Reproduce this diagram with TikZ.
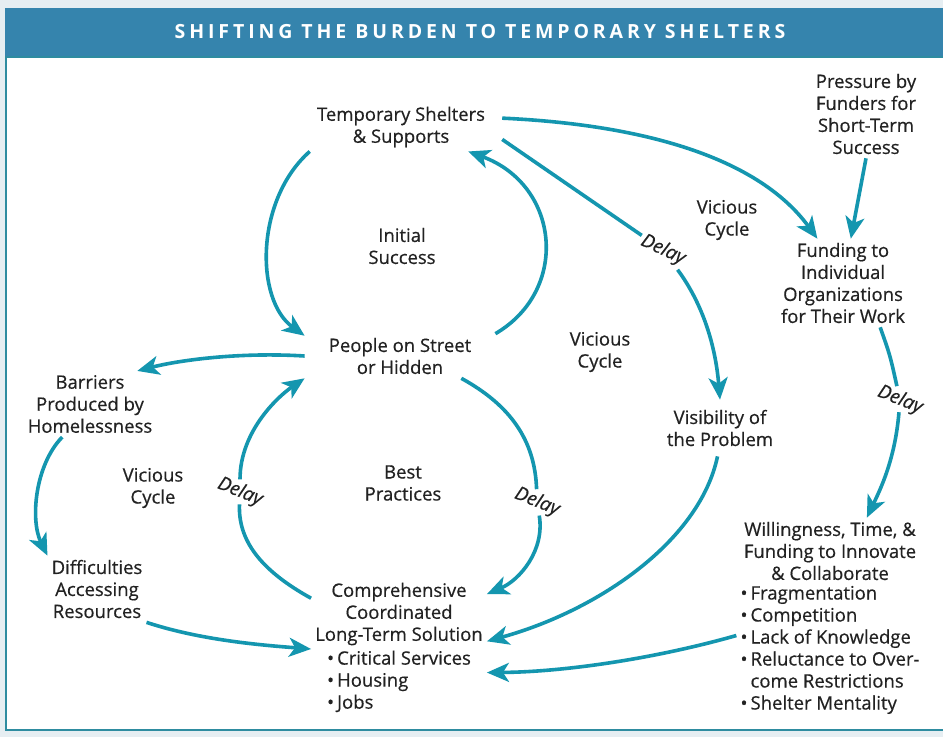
\documentclass[tikz,border=0pt]{standalone}
\usepackage{fontspec}
\setmainfont{Open Sans}
\newfontfamily\diagfont{Open Sans}[FakeBold=0.5]
\usetikzlibrary{arrows.meta}
\definecolor{pagebg}{HTML}{E6EEF2}
\definecolor{titlebar}{HTML}{3584AD}
\definecolor{frameline}{HTML}{2E8CA0}
\definecolor{loopteal}{HTML}{1496AF}
\definecolor{ink}{HTML}{222222}
\begin{document}
\begin{tikzpicture}[x=1pt, y=-1pt,
    lbl/.style={align=center, text=ink, font=\diagfont\fontsize{18.5}{22}\selectfont, inner sep=4pt},
    delaylbl/.style={text=ink, font=\diagfont\fontsize{19}{20}\selectfont\itshape, inner sep=2pt, rotate=-22},
    link/.style={draw=loopteal, line width=3.6pt, -{Stealth[length=22pt, width=19pt, inset=6pt]}},
    plainlink/.style={draw=loopteal, line width=3.6pt}]
    \useasboundingbox (0,0) rectangle (943,737);
    % frame and title
    \fill[pagebg] (0,0) rectangle (943,737);
    \fill[white] (5,57) rectangle (943,731);
    \draw[frameline, line width=2pt] (6,57) -- (6,730) -- (943,730);
    \fill[titlebar] (5,8) rectangle (943,57);
    \draw[frameline, line width=1.2pt] (5,57) -- (943,57);
    \node [text=white, font=\fontsize{19.5}{20}\selectfont\bfseries\addfontfeature{LetterSpace=20}] (title) at (480,32) {SHIFTING THE BURDEN TO TEMPORARY SHELTERS};

    \node [lbl, inner xsep=17pt] (shelters) at (401,127) {Temporary Shelters\\\& Supports};
    \node [lbl] (pressure) at (866,114) {Pressure by\\Funders for\\Short-Term\\Success};
    \node [lbl] (initial) at (402,246) {Initial\\Success};
    \node [lbl] (vicious1) at (727,220) {Vicious\\Cycle};
    \node [lbl] (funding) at (843,283) {Funding to\\Individual\\Organizations\\for Their Work};
    \node [lbl, inner xsep=24pt] (people) at (400,356) {People on Street\\or Hidden};
    \node [lbl] (vicious2) at (600,352) {Vicious\\Cycle};
    \node [lbl] (barriers) at (90,404) {Barriers\\Produced by\\Homelessness};
    \node [lbl, inner ysep=10pt] (visibility) at (720,428) {Visibility of\\the Problem};
    \node [lbl] (vicious3) at (153,488) {Vicious\\Cycle};
    \node [lbl] (best) at (403,483) {Best\\Practices};
    \node [lbl] (difficulties) at (97,589) {Difficulties\\Accessing\\Resources};
    \node [lbl] (solution) at (399,649) {Comprehensive\\Coordinated\\Long-Term Solution\\[3pt]
        \begin{tabular}{@{}l@{}}\textbullet\,Critical Services\\\textbullet\,Housing\\\textbullet\,Jobs\end{tabular}};
    \node [lbl] (willingness) at (830,619) {Willingness, Time, \&\\Funding to Innovate\\\& Collaborate\\[3pt]
        \begin{tabular}{@{}l@{}}\textbullet\,Fragmentation\\\textbullet\,Competition\\\textbullet\,Lack of Knowledge\\\textbullet\,Reluctance to Over-\\\phantom{\textbullet\,}come Restrictions\\\textbullet\,Shelter Mentality\end{tabular}};

    \node [delaylbl, rotate=-3] (delayvis) at (663,250) {Delay};
    \node [delaylbl] (delayfund) at (900,400) {Delay};
    \node [delaylbl] (delaybest) at (240,492) {Delay};
    \node [delaylbl] (delaystreet) at (537,502) {Delay};

    % initial success loop
    \draw [link] (shelters.195) .. controls (255,200) and (255,300) .. (people.168);
    \draw [link] (people.north east) .. controls (570,290) and (560,185) .. (shelters.-20);
    % shelters to funders and visibility
    \draw [link] (shelters.5) .. controls (650,125) and (760,160) .. (funding.120);
    \draw [plainlink] (shelters.-7) -- (delayvis);
    \draw [link] (delayvis) .. controls (700,300) and (715,340) .. (visibility.north);
    \draw [link] (pressure.south) -- (funding.80);
    \draw [plainlink] (funding.-50) .. controls (890,355) .. (delayfund);
    \draw [link] (delayfund) .. controls (895,460) and (880,490) .. (willingness.70);
    % barriers loop
    \draw [link] (people.west) .. controls (240,352) and (180,360) .. (barriers.35);
    \draw [link] (barriers.-130) .. controls (35,465) and (30,520) .. (difficulties.north west);
    \draw [link] (difficulties.south east) .. controls (200,640) and (260,645) .. (solution.west);
    % best practices loop
    \draw [plainlink] (solution.150) .. controls (260,570) and (238,540) .. (delaybest);
    \draw [link] (delaybest) .. controls (240,430) and (280,395) .. (people.south west);
    \draw [plainlink] (people.-20) .. controls (510,405) and (535,440) .. (delaystreet);
    \draw [link] (delaystreet) .. controls (545,550) and (520,580) .. (solution.32);
    % toward the long-term solution
    \draw [link] (visibility.-95) .. controls (700,540) and (600,610) .. (solution.5);
    \draw [link] (willingness.190) .. controls (650,660) and (560,672) .. (solution.-15);
\end{tikzpicture}
\end{document}
